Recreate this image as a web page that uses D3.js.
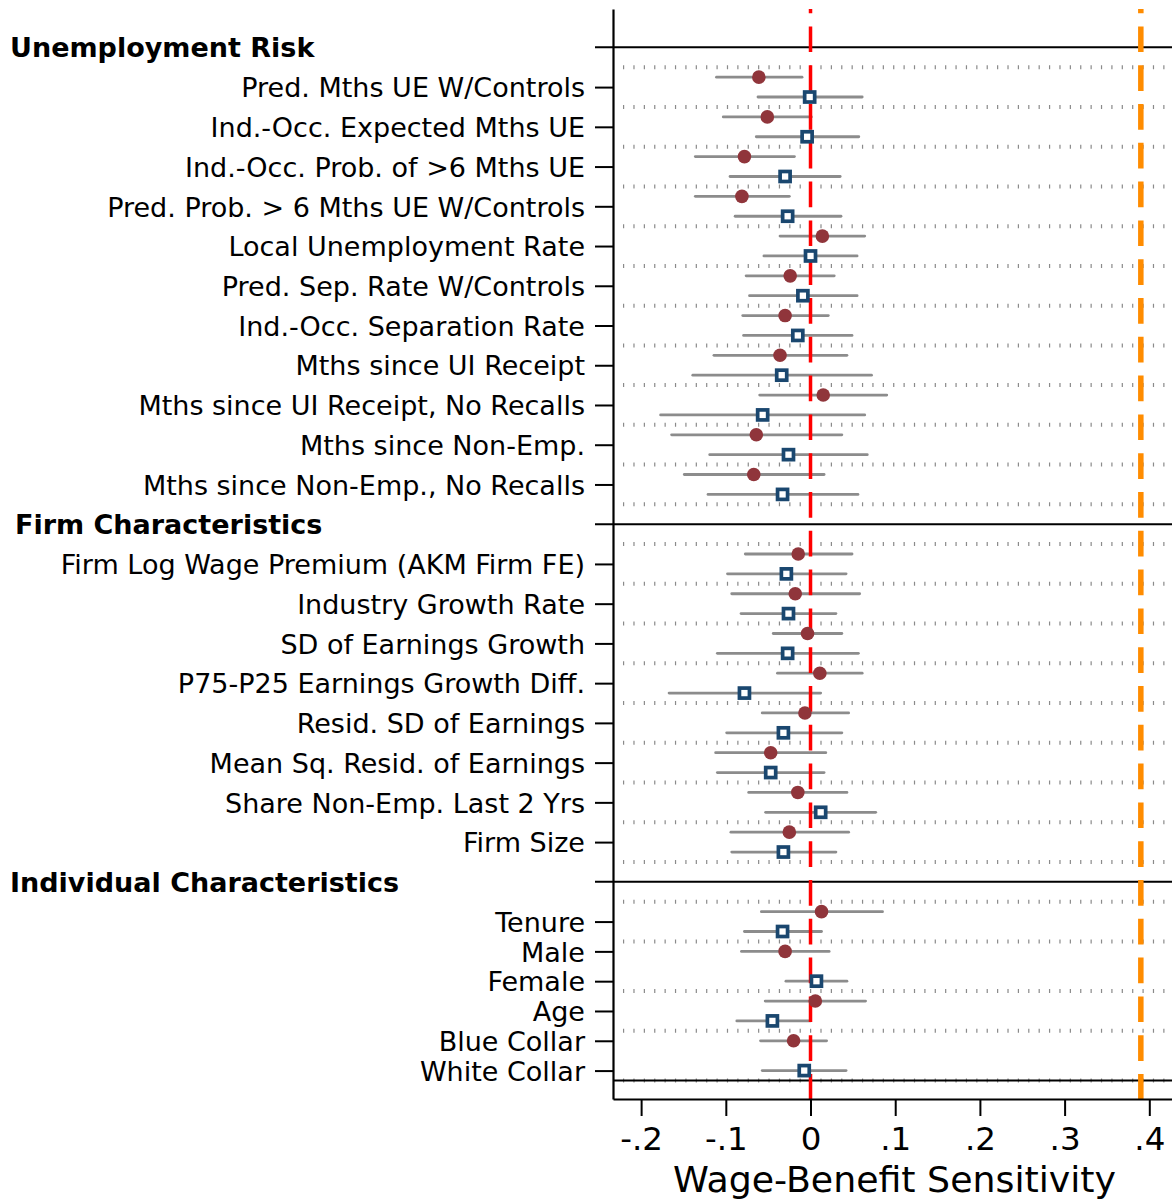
<!DOCTYPE html>
<html>
<head>
<meta charset="utf-8">
<script src="https://cdnjs.cloudflare.com/ajax/libs/d3/7.8.5/d3.min.js"></script>
<style>
  body { margin: 0; background: #fff; }
  svg { display: block; font-family: "DejaVu Sans", sans-serif; }
</style>
</head>
<body>
<div id="chart"></div>
<script>

/**************************************************
 * Data                                           *
 **************************************************/

var sectionNames = ['Unemployment Risk', 'Firm Characteristics', 'Individual Characteristics'];
var sectionRows = [0, 12, 21];
var lastRow = 26;

var rowLabels = [
  'Pred. Mths UE W/Controls',
  'Ind.-Occ. Expected Mths UE',
  'Ind.-Occ. Prob. of >6 Mths UE',
  'Pred. Prob. > 6 Mths UE W/Controls',
  'Local Unemployment Rate',
  'Pred. Sep. Rate W/Controls',
  'Ind.-Occ. Separation Rate',
  'Mths since UI Receipt',
  'Mths since UI Receipt, No Recalls',
  'Mths since Non-Emp.',
  'Mths since Non-Emp., No Recalls',
  'Firm Log Wage Premium (AKM Firm FE)',
  'Industry Growth Rate',
  'SD of Earnings Growth',
  'P75-P25 Earnings Growth Diff.',
  'Resid. SD of Earnings',
  'Mean Sq. Resid. of Earnings',
  'Share Non-Emp. Last 2 Yrs',
  'Firm Size',
  'Tenure', 'Male', 'Female', 'Age', 'Blue Collar', 'White Collar'
];
var rowSlots = [1, 2, 3, 4, 5, 6, 7, 8, 9, 10, 11,
  13, 14, 15, 16, 17, 18, 19, 20,
  22, 22.75, 23.5, 24.25, 25, 25.75];

// model 1 (filled circles)
var circleEst = [-0.061, -0.051, -0.078, -0.081, 0.014, -0.024, -0.030, -0.036, 0.015, -0.064, -0.067,
  -0.0145, -0.018, -0.0035, 0.011, -0.0066, -0.047, -0.015, -0.025,
  0.013, -0.030, null, 0.0057, -0.020, null];
var circleLo = [-0.111, -0.103, -0.136, -0.136, -0.036, -0.076, -0.080, -0.114, -0.060, -0.164, -0.149,
  -0.077, -0.093, -0.044, -0.039, -0.057, -0.112, -0.073, -0.094,
  -0.058, -0.0815, null, -0.0535, -0.059, null];
var circleHi = [-0.010, 0.001, -0.019, -0.025, 0.064, 0.028, 0.021, 0.043, 0.090, 0.037, 0.016,
  0.049, 0.058, 0.037, 0.061, 0.045, 0.018, 0.043, 0.045,
  0.085, 0.022, null, 0.065, 0.019, null];

// model 2 (hollow squares)
var squareEst = [-0.001, -0.004, -0.030, -0.027, 0.000, -0.009, -0.015, -0.034, -0.0565, -0.026, -0.033,
  -0.0285, -0.026, -0.027, -0.078, -0.032, -0.047, 0.012, -0.032,
  -0.033, null, 0.007, -0.045, null, -0.0074];
var squareLo = [-0.062, -0.064, -0.095, -0.089, -0.055, -0.072, -0.079, -0.139, -0.177, -0.119, -0.121,
  -0.098, -0.082, -0.110, -0.167, -0.099, -0.110, -0.053, -0.093,
  -0.078, null, -0.029, -0.087, null, -0.057];
var squareHi = [0.061, 0.057, 0.035, 0.036, 0.055, 0.055, 0.049, 0.072, 0.064, 0.067, 0.056,
  0.042, 0.030, 0.0565, 0.012, 0.037, 0.016, 0.077, 0.030,
  0.013, null, 0.043, 0.000, null, 0.042];

var gridSlots = [0.5, 1.5, 2.5, 3.5, 4.5, 5.5, 6.5, 7.5, 8.5, 9.5, 10.5, 11.5,
  12.5, 13.5, 14.5, 15.5, 16.5, 17.5, 18.5, 19.5, 20.5,
  21.5, 22.5, 23.75, 24.75, 26];

var xTickValues = [-0.2, -0.1, 0, 0.1, 0.2, 0.3, 0.4];
var xTickLabels = ['-.2', '-.1', '0', '.1', '.2', '.3', '.4'];
var refValues = [0, 0.39];
var xTitle = 'Wage-Benefit Sensitivity';

window.onload = function() {

  /**************************************************
   * Options                                        *
   **************************************************/

  var width = 1172,
    height = 1199;

  var options = {
    plotLeft: 613,
    plotRight: 1172,
    plotTop: 9,
    plotBottom: 1099,
    labelSize: 27,
    headerIndent: [10, 15, 10],
    tickLabelSize: 32.5,
    titleSize: 36.3,
    circleColor: '#90353b',
    squareColor: '#1a476f',
    ciColor: '#8c8c8c',
    gridColor: '#8a8a8a',
    refColors: ['#ff0000', '#ff8c00'],
    refWidths: [3.5, 5.5],
    offset: 0.25
  };

  var svg = d3.select('#chart').append('svg')
    .attr('width', width)
    .attr('height', height);

  var x = d3.scaleLinear()
    .domain([-0.2332, 0.4268])
    .range([options.plotLeft, options.plotRight]);

  var y = d3.scaleLinear()
    .domain([-0.965, 26.465])
    .range([options.plotTop, options.plotBottom]);

  /**************************************************
   * Build rows                                     *
   **************************************************/

  var marks = [];
  rowLabels.forEach(function(label, i) {
    var both = circleEst[i] !== null && squareEst[i] !== null;
    if (circleEst[i] !== null) {
      marks.push({ type: 'circle', slot: rowSlots[i] - (both ? options.offset : 0),
        est: circleEst[i], lo: circleLo[i], hi: circleHi[i] });
    }
    if (squareEst[i] !== null) {
      marks.push({ type: 'square', slot: rowSlots[i] + (both ? options.offset : 0),
        est: squareEst[i], lo: squareLo[i], hi: squareHi[i] });
    }
  });

  /**************************************************
   * Draw Area                                      *
   **************************************************/

  // dotted grid
  svg.append('g').selectAll('line').data(gridSlots).enter().append('line')
    .attr('x1', options.plotLeft)
    .attr('x2', options.plotRight)
    .attr('y1', function(d) { return y(d); })
    .attr('y2', function(d) { return y(d); })
    .attr('stroke', options.gridColor)
    .attr('stroke-width', 4)
    .attr('stroke-dasharray', '1.2 9.19')
    .attr('stroke-dashoffset', 0.4);

  // section lines
  svg.append('g').selectAll('line').data(sectionRows).enter().append('line')
    .attr('x1', options.plotLeft - 18)
    .attr('x2', options.plotRight)
    .attr('y1', function(d) { return y(d); })
    .attr('y2', function(d) { return y(d); })
    .attr('stroke', '#000')
    .attr('stroke-width', 2);

  svg.append('line')
    .attr('x1', options.plotLeft)
    .attr('x2', options.plotRight)
    .attr('y1', y(lastRow))
    .attr('y2', y(lastRow))
    .attr('stroke', '#000')
    .attr('stroke-width', 2);

  // section headers
  svg.append('g').selectAll('text').data(sectionNames).enter().append('text')
    .attr('x', function(d, i) { return options.headerIndent[i]; })
    .attr('y', function(d, i) { return y(sectionRows[i]); })
    .attr('dy', '0.36em')
    .attr('font-size', options.labelSize)
    .attr('font-weight', 'bold')
    .attr('fill', '#000')
    .text(function(d) { return d; });

  // confidence intervals
  svg.append('g').selectAll('line').data(marks).enter().append('line')
    .attr('x1', function(d) { return x(d.lo); })
    .attr('x2', function(d) { return x(d.hi); })
    .attr('y1', function(d) { return y(d.slot); })
    .attr('y2', function(d) { return y(d.slot); })
    .attr('stroke', options.ciColor)
    .attr('stroke-width', 2.8)
    .attr('stroke-linecap', 'round');

  // reference lines
  svg.append('g').selectAll('line').data(refValues).enter().append('line')
    .attr('x1', function(d) { return x(d); })
    .attr('x2', function(d) { return x(d); })
    .attr('y1', options.plotTop)
    .attr('y2', options.plotBottom)
    .attr('stroke', function(d, i) { return options.refColors[i]; })
    .attr('stroke-width', function(d, i) { return options.refWidths[i]; })
    .attr('stroke-dasharray', '25.7 13.1')
    .attr('stroke-dashoffset', 21.4);

  // markers
  var markGroup = svg.append('g');
  markGroup.selectAll('circle').data(marks.filter(function(d) { return d.type === 'circle'; }))
    .enter().append('circle')
    .attr('cx', function(d) { return x(d.est); })
    .attr('cy', function(d) { return y(d.slot); })
    .attr('r', 6.8)
    .attr('fill', options.circleColor);

  markGroup.selectAll('rect').data(marks.filter(function(d) { return d.type === 'square'; }))
    .enter().append('rect')
    .attr('x', function(d) { return x(d.est) - 5; })
    .attr('y', function(d) { return y(d.slot) - 5; })
    .attr('width', 10)
    .attr('height', 10)
    .attr('fill', '#fff')
    .attr('stroke', options.squareColor)
    .attr('stroke-width', 3.7);

  /**************************************************
   * Axes                                           *
   **************************************************/

  var yAxis = d3.axisLeft(y)
    .tickValues(rowSlots)
    .tickFormat(function(d, i) { return rowLabels[i]; })
    .tickSize(18)
    .tickSizeOuter(0)
    .tickPadding(10);

  var yg = svg.append('g')
    .attr('transform', 'translate(' + options.plotLeft + ',0)')
    .call(yAxis);
  yg.select('.domain').attr('stroke-width', 2.2);
  yg.selectAll('.tick line').attr('stroke-width', 2);
  yg.selectAll('.tick text')
    .attr('font-size', options.labelSize)
    .attr('font-family', '"DejaVu Sans", sans-serif')
    .attr('fill', '#000')
    .attr('dy', '0.36em');

  var xAxis = d3.axisBottom(x)
    .tickValues(xTickValues)
    .tickFormat(function(d, i) { return xTickLabels[i]; })
    .tickSize(17)
    .tickSizeOuter(0)
    .tickPadding(11);

  var xg = svg.append('g')
    .attr('transform', 'translate(0,' + options.plotBottom + ')')
    .call(xAxis);
  xg.select('.domain').attr('stroke-width', 2.2);
  xg.selectAll('.tick line').attr('stroke-width', 2);
  xg.selectAll('.tick text')
    .attr('font-size', options.tickLabelSize)
    .attr('font-family', '"DejaVu Sans", sans-serif')
    .attr('fill', '#000');

  svg.append('text')
    .attr('x', (options.plotLeft + options.plotRight) / 2 + 2)
    .attr('y', 1191.5)
    .attr('text-anchor', 'middle')
    .attr('font-size', options.titleSize)
    .attr('fill', '#000')
    .text(xTitle);

}
</script>
</body>
</html>
